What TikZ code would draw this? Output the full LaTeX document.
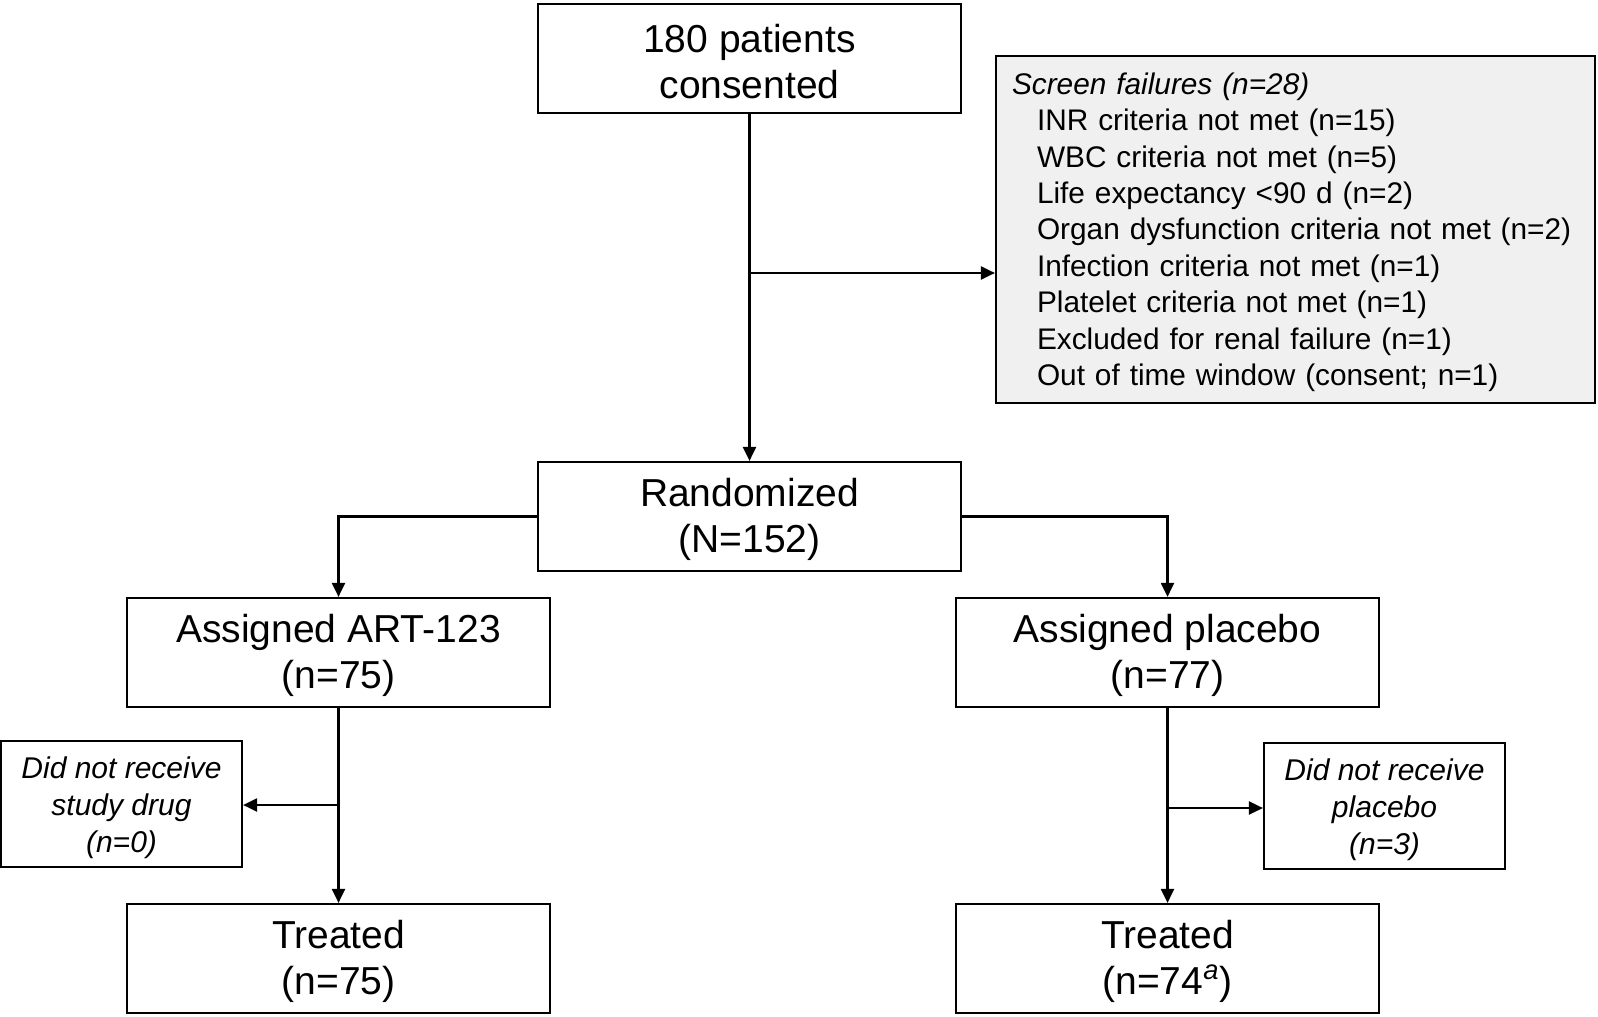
\documentclass[tikz,border=0pt]{standalone}
\usepackage{fontspec}
\setmainfont{Liberation Sans}
\usetikzlibrary{calc}
\usetikzlibrary{positioning}
\usetikzlibrary{arrows.meta}
\tikzstyle{mainbox} = [draw, line width=1.1pt, minimum width=211.5pt, minimum height=54.5pt, align=center, font=\fontsize{19.5}{23}\selectfont]
\tikzstyle{sidebox} = [draw, line width=1.1pt, minimum width=120.5pt, minimum height=63pt, align=center, font=\fontsize{15}{18.5}\selectfont\itshape]
\tikzstyle{colorScreen} = [fill=black!6]
\tikzstyle{flow} = [line width=1.1pt, -{Triangle[length=7pt, width=6.5pt]}]
\newcommand{\mainstrut}{\rule{0pt}{16.8pt}}
\newcommand{\sidestrut}{\rule{0pt}{15pt}}

\begin{document}
\begin{tikzpicture}[x=0.5pt, y=-0.5pt]
    \useasboundingbox (0,0) rectangle (1598,1016);

    \node[mainbox] (top_consent) at (749.5,58.5) {\mainstrut 180 patients\\consented};
    \node[mainbox] (rand_block) at ($(top_consent)+(0,458)$) {\mainstrut Randomized\\(N=152)};
    \node[draw, colorScreen, line width=1.1pt, inner xsep=8pt, text width=283.5pt,
        minimum height=173.5pt, align=left, font=\fontsize{14.9}{18.2}\selectfont]
        (screen_fail) at (1295.5,229.5)
{\rule{0pt}{13.5pt}\textit{Screen failures (n=28)}\\
\hspace*{12.5pt}INR criteria not met (n=15)\\
\hspace*{12.5pt}WBC criteria not met (n=5)\\
\hspace*{12.5pt}Life expectancy <90 d (n=2)\\
\hspace*{12.5pt}Organ dysfunction criteria not met (n=2)\\
\hspace*{12.5pt}Infection criteria not met (n=1)\\
\hspace*{12.5pt}Platelet criteria not met (n=1)\\
\hspace*{12.5pt}Excluded for renal failure (n=1)\\
\hspace*{12.5pt}Out of time window (consent; n=1)};
    \coordinate (screen_split) at ($(top_consent)+(0,214.5)$);
    \draw[line width=1.1pt] (top_consent.south) -- (screen_split);
    \draw[flow] (screen_split) -- (rand_block.north);
    \draw[flow] (screen_split) -- (screen_split -| screen_fail.west);

    \node[mainbox] (art_assign) at ($(rand_block)+(-411,136)$) {\mainstrut Assigned ART-123\\(n=75)};
    \node[mainbox] (plac_assign) at ($(rand_block)+(418,136)$) {\mainstrut Assigned placebo\\(n=77)};
    \draw[flow] (rand_block.west) -| (art_assign.north);
    \draw[flow] (rand_block.east) -| (plac_assign.north);

    \node[mainbox] (art_treat) at ($(art_assign)+(0,306)$) {\mainstrut Treated\\(n=75)};
    \node[mainbox] (plac_treat) at ($(plac_assign)+(0,306)$) {\mainstrut Treated\\(n=74\textsuperscript{\itshape a})};
    \node[sidebox] (art_miss) at ($(art_assign)+(-217,151.5)$) {\sidestrut Did not receive\\study drug\\(n=0)};
    \node[sidebox] (plac_miss) at ($(plac_assign)+(217,153.5)$) {\sidestrut Did not receive\\placebo\\(n=3)};

    \coordinate (art_split) at ($(art_assign)+(0,152.5)$);
    \coordinate (plac_split) at ($(plac_assign)+(0,155.5)$);
    \draw[line width=1.1pt] (art_assign.south) -- (art_split);
    \draw[flow] (art_split) -- (art_treat.north);
    \draw[flow] (art_split) -- (art_split -| art_miss.east);
    \draw[line width=1.1pt] (plac_assign.south) -- (plac_split);
    \draw[flow] (plac_split) -- (plac_treat.north);
    \draw[flow] (plac_split) -- (plac_split -| plac_miss.west);
\end{tikzpicture}
\end{document}
